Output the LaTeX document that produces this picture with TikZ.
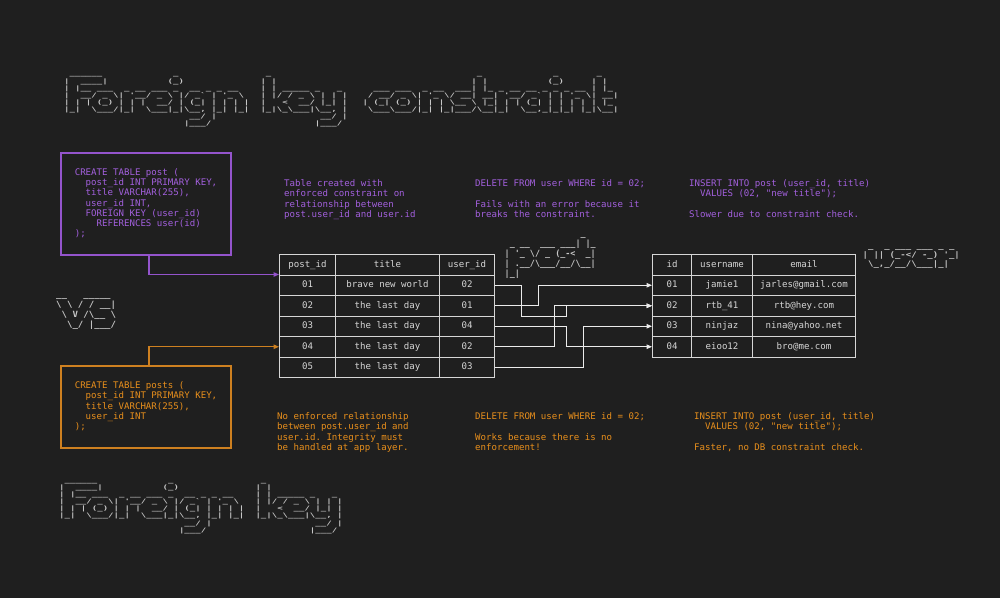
\documentclass[tikz,border=0pt]{standalone}
\usepackage{fontspec}
\setmonofont{DejaVu Sans Mono}
\usepackage{graphicx}
\usetikzlibrary{arrows.meta}

\definecolor{bgc}{RGB}{31,31,31}
\definecolor{artc}{RGB}{200,200,200}
\definecolor{tabc}{RGB}{214,214,214}
\definecolor{linec}{RGB}{235,235,235}
\definecolor{purt}{RGB}{163,96,222}
\definecolor{purb}{RGB}{148,84,204}
\definecolor{orat}{RGB}{232,143,28}
\definecolor{orab}{RGB}{206,128,32}

\newcommand\artNL{\\}
\newcommand\artsp{\hskip0.60205em\relax}
\newcommand\artbox[1]{{\ttfamily\bfseries\fontsize{12}{14}\selectfont\begin{tabular}{@{}l@{}}#1\end{tabular}}}
\newcommand\codefont{\ttfamily\fontsize{9.1}{10.3}\selectfont}

\begingroup
\catcode`\ =13\relax%
\gdef {\artsp}%
\catcode`\!=0\relax%
\catcode`\_=12\relax%
\catcode`\\=12\relax%
!gdef!artTFo{%
 ______             _!artNL
|  ____|           (_)!artNL
| |__ ___  _ __ ___ _  __ _ _ __!artNL
|  __/ _ \| '__/ _ \ |/ _` | '_ \!artNL
| | | (_) | | |  __/ | (_| | | | |!artNL
|_|  \___/|_|  \___|_|\__, |_| |_|!artNL
                       __/ |!artNL
                      |___/}%
!gdef!artTKey{%
 _!artNL
| |!artNL
| | _____ _   _!artNL
| |/ / _ \ | | |!artNL
|   <  __/ |_| |!artNL
|_|\_\___|\__, |!artNL
           __/ |!artNL
          |___/}%
!gdef!artTCon{%
                     _             _       _!artNL
                    | |           (_)     | |!artNL
  ___ ___  _ __  ___| |_ _ __ __ _ _ _ __ | |_!artNL
 / __/ _ \| '_ \/ __| __| '__/ _` | | '_ \| __|!artNL
| (_| (_) | | | \__ \ |_| | | (_| | | | | | |_!artNL
 \___\___/|_| |_|___/\__|_|  \__,_|_|_| |_|\__|}%
!gdef!artVS{%
__   _____!artNL
\ \ / / __|!artNL
 \ V /\__ \!artNL
  \_/ |___/}%
!gdef!artPost{%
               _!artNL
 _ __  ___ ___| |_!artNL
| '_ \/ _ (_-<  _|!artNL
| .__/\___/__/\__|!artNL
|_|}%
!gdef!artUser{%
 _  _ ___ ___ _ _!artNL
| || (_-</ -_) '_|!artNL
 \_,_/__/\___|_|}%
!endgroup

\begin{document}
\begin{tikzpicture}[x=1pt,y=-1pt,
  art/.style={inner sep=0pt, anchor=north west, text=artc},
  cell/.style={draw=tabc, line width=1pt, inner sep=0pt, minimum height=20.5pt,
    text height=6.6pt, text depth=1.9pt, anchor=north west, text=tabc, font=\codefont},
  codebox/.style={line width=1.3pt, inner sep=0pt, font=\codefont},
  ann/.style={inner sep=0pt, font=\codefont, anchor=base west},
  conn/.style={draw=linec, line width=1pt, -{Triangle[length=5.5pt,width=4.5pt]}},
  pconn/.style={draw=purb, line width=1.2pt, -{Triangle[length=5.5pt,width=4.5pt]}},
  oconn/.style={draw=orab, line width=1.2pt, -{Triangle[length=5.5pt,width=4.5pt]}}
]
\fill[bgc] (0,0) rectangle (1000,598);
\useasboundingbox (0,0) rectangle (1000,598);

% ASCII-art titles
\node[art] (tFo)  at (64,70.7)    {\scalebox{0.754}[0.511]{\artbox{\artTFo}}};
\node[art] (tKey) at (260.3,70.7) {\scalebox{0.754}[0.511]{\artbox{\artTKey}}};
\node[art] (tCon) at (362.3,70.7) {\scalebox{0.754}[0.511]{\artbox{\artTCon}}};
\node[art] (bFo)  at (59,476.9)   {\scalebox{0.754}[0.511]{\artbox{\artTFo}}};
\node[art] (bKey) at (255.3,476.9) {\scalebox{0.754}[0.511]{\artbox{\artTKey}}};
\node[art] (vs)   at (56,290.4)   {\scalebox{0.754}[0.714]{\artbox{\artVS}}};
\node[art] (postart) at (504.5,229.7) {\scalebox{0.700}[0.714]{\artbox{\artPost}}};
\node[art] (userart) at (862.5,242.3) {\scalebox{0.747}[0.643]{\artbox{\artUser}}};

% code boxes
\node[codebox, draw=purb, text=purt, minimum width=170pt, minimum height=102pt] (pbox) at (146,204)
 {\begin{tabular}{@{}l@{}}CREATE TABLE post (\\
 \ \ post\_id INT PRIMARY KEY,\\
 \ \ title VARCHAR(255),\\
 \ \ user\_id INT,\\
 \ \ FOREIGN KEY (user\_id)\\
 \ \ \ \ REFERENCES user(id)\\
 );\end{tabular}};
\node[codebox, draw=orab, text=orat, minimum width=170pt, minimum height=82pt] (obox) at (146,407)
 {\begin{tabular}{@{}l@{}}CREATE TABLE posts (\\
 \ \ post\_id INT PRIMARY KEY,\\
 \ \ title VARCHAR(255),\\
 \ \ user\_id INT\\
 );\end{tabular}};

% annotations (purple)
\node[ann, text=purt] (pa1) at (284,186.5) {\begin{tabular}[t]{@{}l@{}}Table created with\\enforced constraint on\\relationship between\\post.user\_id and user.id\end{tabular}};
\node[ann, text=purt] (pa2) at (475,186.5) {\begin{tabular}[t]{@{}l@{}}DELETE FROM user WHERE id = 02;\\ \\Fails with an error because it\\breaks the constraint.\end{tabular}};
\node[ann, text=purt] (pa3) at (689,186.5) {\begin{tabular}[t]{@{}l@{}}INSERT INTO post (user\_id, title)\\\ \ VALUES (02, "new title");\\ \\Slower due to constraint check.\end{tabular}};
% annotations (orange)
\node[ann, text=orat] (oa1) at (277,419.5) {\begin{tabular}[t]{@{}l@{}}No enforced relationship\\between post.user\_id and\\user.id. Integrity must\\be handled at app layer.\end{tabular}};
\node[ann, text=orat] (oa2) at (475,419.5) {\begin{tabular}[t]{@{}l@{}}DELETE FROM user WHERE id = 02;\\ \\Works because there is no\\enforcement!\end{tabular}};
\node[ann, text=orat] (oa3) at (694,419.5) {\begin{tabular}[t]{@{}l@{}}INSERT INTO post (user\_id, title)\\\ \ VALUES (02, "new title");\\ \\Faster, no DB constraint check.\end{tabular}};

% post table
\node[cell, minimum width=56pt]  (ph1) at (279,254) {post\_id};
\node[cell, minimum width=104pt] (ph2) at (335,254) {title};
\node[cell, minimum width=55pt]  (ph3) at (439,254) {user\_id};
\node[cell, minimum width=56pt]  (p1i) at (279,274.5) {01};
\node[cell, minimum width=104pt] (p1t) at (335,274.5) {brave new world};
\node[cell, minimum width=55pt]  (p1u) at (439,274.5) {02};
\node[cell, minimum width=56pt]  (p2i) at (279,295) {02};
\node[cell, minimum width=104pt] (p2t) at (335,295) {the last day};
\node[cell, minimum width=55pt]  (p2u) at (439,295) {01};
\node[cell, minimum width=56pt]  (p3i) at (279,315.5) {03};
\node[cell, minimum width=104pt] (p3t) at (335,315.5) {the last day};
\node[cell, minimum width=55pt]  (p3u) at (439,315.5) {04};
\node[cell, minimum width=56pt]  (p4i) at (279,336) {04};
\node[cell, minimum width=104pt] (p4t) at (335,336) {the last day};
\node[cell, minimum width=55pt]  (p4u) at (439,336) {02};
\node[cell, minimum width=56pt]  (p5i) at (279,356.5) {05};
\node[cell, minimum width=104pt] (p5t) at (335,356.5) {the last day};
\node[cell, minimum width=55pt]  (p5u) at (439,356.5) {03};

% user table
\node[cell, minimum width=39pt]  (uh1) at (652,254) {id};
\node[cell, minimum width=61pt]  (uh2) at (691,254) {username};
\node[cell, minimum width=103pt] (uh3) at (752,254) {email};
\node[cell, minimum width=39pt]  (u1i) at (652,274.5) {01};
\node[cell, minimum width=61pt]  (u1n) at (691,274.5) {jamie1};
\node[cell, minimum width=103pt] (u1e) at (752,274.5) {jarles@gmail.com};
\node[cell, minimum width=39pt]  (u2i) at (652,295) {02};
\node[cell, minimum width=61pt]  (u2n) at (691,295) {rtb\_41};
\node[cell, minimum width=103pt] (u2e) at (752,295) {rtb@hey.com};
\node[cell, minimum width=39pt]  (u3i) at (652,315.5) {03};
\node[cell, minimum width=61pt]  (u3n) at (691,315.5) {ninjaz};
\node[cell, minimum width=103pt] (u3e) at (752,315.5) {nina@yahoo.net};
\node[cell, minimum width=39pt]  (u4i) at (652,336) {04};
\node[cell, minimum width=61pt]  (u4n) at (691,336) {eioo12};
\node[cell, minimum width=103pt] (u4e) at (752,336) {bro@me.com};

% connectors from code boxes
\draw[pconn] ([xshift=3pt]pbox.south) |- (p1i.north west);
\draw[oconn] ([xshift=3pt]obox.north) |- (p4i.west);

% foreign key connectors
\draw[conn] (p1u.east) -- ++(26,0) -- ++(0,31) -| ++(45,-10.5) -- (u2i.west);
\draw[conn] (p2u.east) -- ++(43,0) |- (u1i.west);
\draw[conn] (p3u.east) -- ++(71,0) |- (u4i.west);
\draw[conn] (p4u.east) -- ++(59,0) |- (u2i.west);
\draw[conn] (p5u.east) -- ++(88,0) |- (u3i.west);
\end{tikzpicture}
\end{document}
